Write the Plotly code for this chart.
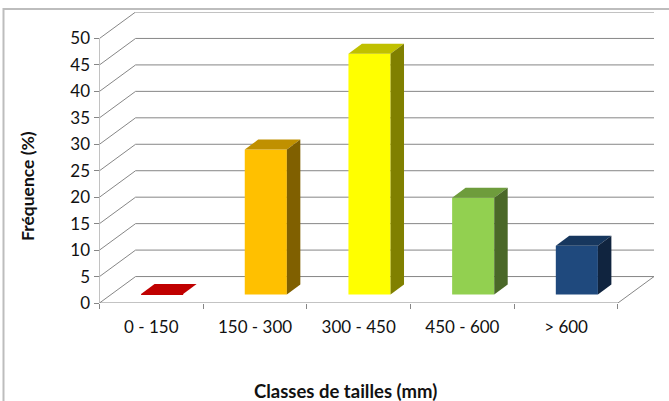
import plotly.graph_objects as go

categories = ["0 - 150", "150 - 300", "300 - 450", "450 - 600", "> 600"]
frequence = [0.1, 27.4, 45.5, 18.3, 9.2]
front_colors = ["#C00000", "#FFC000", "#FFFF00", "#92D050", "#1F497D"]
top_colors = ["#C00000", "#C09000", "#C0C000", "#6E9C3C", "#17375E"]
side_colors = ["#900000", "#806000", "#808000", "#4A6828", "#10243F"]
y_ticks = [0, 5, 10, 15, 20, 25, 30, 35, 40, 45, 50]

FONT = "Lato"
GRID = "#868686"
L, R, T, B = 99.5, 15, 12, 98
W, H = 669, 401
X_MAX = 4.848
Y_MAX = 55.0
WALL_DX, WALL_DY = 0.348, 5.0      # floor depth in axis units
BAR_LEFT, BAR_W = -0.099, 0.406    # bar placement inside a category
BAR_BASE = 1.6
BAR_DX, BAR_DY = 0.13, 1.9         # bar depth in axis units

positions = list(range(len(categories)))
fig = go.Figure()

# front faces
fig.add_trace(go.Bar(
    x=positions, y=frequence, base=BAR_BASE, width=BAR_W, offset=BAR_LEFT,
    marker=dict(color=front_colors, line=dict(width=0)),
    showlegend=False, hovertemplate="%{text}: %{y}%<extra></extra>", text=categories,
    textposition="none",
))

# top and side faces
for p, v, tc, sc in zip(positions, frequence, top_colors, side_colors):
    x0, x1 = p + BAR_LEFT, p + BAR_LEFT + BAR_W
    y0, y1 = BAR_BASE, BAR_BASE + v
    fig.add_trace(go.Scatter(
        x=[x0, x1, x1 + BAR_DX, x0 + BAR_DX, x0],
        y=[y1, y1, y1 + BAR_DY, y1 + BAR_DY, y1],
        mode="lines", fill="toself", fillcolor=tc, line=dict(width=0),
        hoverinfo="skip", showlegend=False))
    fig.add_trace(go.Scatter(
        x=[x1, x1 + BAR_DX, x1 + BAR_DX, x1, x1],
        y=[y0, y0 + BAR_DY, y1 + BAR_DY, y1, y0],
        mode="lines", fill="toself", fillcolor=sc, line=dict(width=0),
        hoverinfo="skip", showlegend=False))

# 3D frame: back wall gridlines, side wall diagonals, axes
shapes = []
def seg(x0, y0, x1, y1, color=GRID, width=1):
    shapes.append(dict(type="line", xref="x", yref="y", x0=x0, y0=y0, x1=x1, y1=y1,
                       line=dict(color=color, width=width), layer="below"))

for t in y_ticks:
    seg(-0.5, t, -0.5 + WALL_DX, t + WALL_DY)
    seg(-0.5 + WALL_DX, t + WALL_DY, X_MAX, t + WALL_DY)
seg(-0.5, 0, -0.5, 50)
seg(-0.5, 0, 4.5, 0)
seg(4.5, 0, 4.5 + WALL_DX, WALL_DY)

# outer chart border: a rectangle whose right and bottom edges run off the page
shapes.append(dict(type="rect", xref="paper", yref="paper",
                   x0=3.5 / W, x1=1.05, y0=-0.05, y1=1 - 9.0 / H,
                   fillcolor="rgba(0,0,0,0)",
                   line=dict(color="#BDBDBD", width=2), layer="above"))

fig.update_layout(
    width=W, height=H, autosize=False,
    margin=dict(l=0, r=0, t=0, b=0, pad=0, autoexpand=False),
    paper_bgcolor="white", plot_bgcolor="rgba(0,0,0,0)",
    font=dict(family=FONT, color="#111111", size=17),
    shapes=shapes, showlegend=False,
    xaxis=dict(
        domain=[L / W, (W - R) / W],
        range=[-0.5, X_MAX], tickmode="array", tickvals=positions, ticktext=categories,
        showgrid=False, zeroline=False, showline=False,
        ticks="outside", ticklen=9, tickcolor="rgba(0,0,0,0)",
        tickfont=dict(family=FONT, size=17),
        minor=dict(tickmode="array", tickvals=[p - 0.5 for p in positions] + [4.5],
                   ticks="outside", ticklen=5, tickcolor=GRID, tickwidth=1, showgrid=False),
    ),
    yaxis=dict(
        domain=[B / H, (H - T) / H],
        range=[0, Y_MAX], tickmode="array", tickvals=y_ticks,
        showgrid=False, zeroline=False, showline=False,
        ticks="outside", ticklen=5, tickcolor=GRID, tickwidth=1,
        tickfont=dict(family=FONT, size=17),
    ),
    annotations=[
        dict(text="<b>Classes de tailles (mm)</b>", xref="paper", yref="paper",
             x=345.5 / W, y=1 - 391 / H, xanchor="center", yanchor="middle",
             showarrow=False, font=dict(family=FONT, size=18.5)),
        dict(text="<b>Fréquence (%)</b>", xref="paper", yref="paper",
             x=27 / W, y=1 - 186 / H, xanchor="center", yanchor="middle",
             textangle=-90, showarrow=False, font=dict(family=FONT, size=17.5)),
    ],
)

fig.write_html("out.html", config=dict(displayModeBar=False),
               post_script="document.body.style.margin='0';")
